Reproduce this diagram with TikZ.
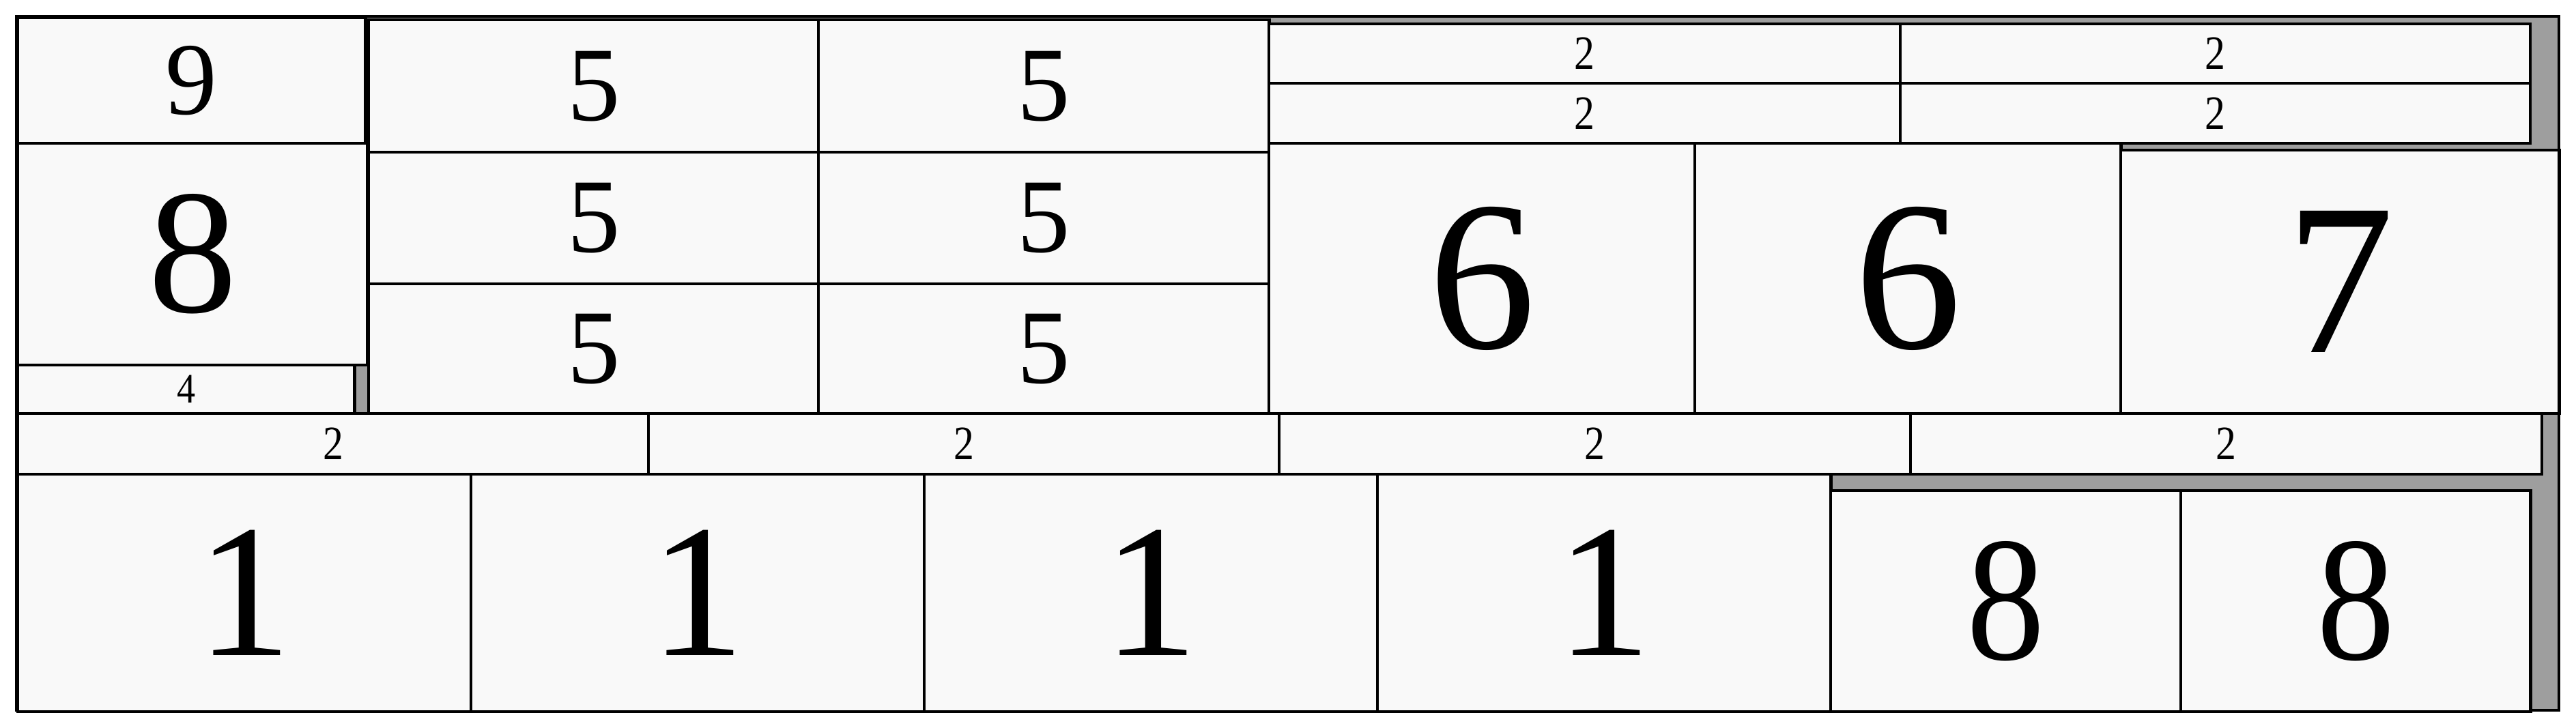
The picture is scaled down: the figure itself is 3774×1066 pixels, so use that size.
\documentclass[tikz,border=0pt]{standalone}
\usepackage{fontspec}
\setmainfont{Liberation Serif}
\usepackage{graphicx}
\usepackage{tikz}

\definecolor{binfill}{HTML}{F9F9F9}
\definecolor{gapgray}{HTML}{9E9E9E}

\newcommand{\fsz}[1]{\fontsize{#1pt}{#1pt}\selectfont}

\begin{document}
\begin{tikzpicture}[x=0.01cm, y=-0.01cm]
    \tikzstyle{bin}=[draw=black, fill=binfill, line width=1.2pt, inner sep=0pt, anchor=north west]
    \useasboundingbox (0,0) rectangle (3774,1066);
    % container
    \draw[fill=gapgray, line width=1.4pt] (24,24) rectangle (3749,1041);
    % left column
    \node[bin, minimum width=5.09cm, minimum height=1.84cm, font=\fsz{43}] (nine) at (24,24) {9};
    \node[bin, minimum width=5.12cm, minimum height=3.25cm, font=\fsz{74}] (eightl) at (24,208) {8};
    \node[bin, minimum width=4.93cm, minimum height=0.71cm, font=\fsz{17.5}] (four) at (24,533) {\scalebox{0.88}[1]{4}};
    % fives
    \node[bin, minimum width=6.59cm, minimum height=1.94cm, font=\fsz{44}] (fa) at (538,27) {5};
    \node[bin, minimum width=6.60cm, minimum height=1.94cm, font=\fsz{44}] (fb) at (1197,27) {5};
    \node[bin, minimum width=6.59cm, minimum height=1.93cm, font=\fsz{44}] (fc) at (538,221) {5};
    \node[bin, minimum width=6.60cm, minimum height=1.93cm, font=\fsz{44}] (fd) at (1197,221) {5};
    \node[bin, minimum width=6.59cm, minimum height=1.90cm, font=\fsz{44}] (fe) at (538,414) {5};
    \node[bin, minimum width=6.60cm, minimum height=1.90cm, font=\fsz{44}] (ff) at (1197,414) {5};
    % small twos, top right
    \node[bin, minimum width=9.25cm, minimum height=0.87cm, font=\fsz{20}] (ta) at (1857,33) {\scalebox{0.85}[1]{2}};
    \node[bin, minimum width=9.22cm, minimum height=0.87cm, font=\fsz{20}] (tb) at (2782,33) {\scalebox{0.85}[1]{2}};
    \node[bin, minimum width=9.25cm, minimum height=0.88cm, font=\fsz{20}] (tc) at (1857,120) {\scalebox{0.85}[1]{2}};
    \node[bin, minimum width=9.22cm, minimum height=0.88cm, font=\fsz{20}] (td) at (2782,120) {\scalebox{0.85}[1]{2}};
    % sixes and seven
    \node[bin, minimum width=6.24cm, minimum height=3.96cm, font=\fsz{89}] (sa) at (1857,208) {6};
    \node[bin, minimum width=6.24cm, minimum height=3.96cm, font=\fsz{89}] (sb) at (2481,208) {6};
    \node[bin, minimum width=6.42cm, minimum height=3.86cm, font=\fsz{90}] (seven) at (3105,218) {7};
    % row of twos
    \node[bin, minimum width=9.24cm, minimum height=0.89cm, font=\fsz{20}] (ra) at (24,604) {\scalebox{0.85}[1]{2}};
    \node[bin, minimum width=9.24cm, minimum height=0.89cm, font=\fsz{20}] (rb) at (948,604) {\scalebox{0.85}[1]{2}};
    \node[bin, minimum width=9.25cm, minimum height=0.89cm, font=\fsz{20}] (rc) at (1872,604) {\scalebox{0.85}[1]{2}};
    \node[bin, minimum width=9.24cm, minimum height=0.89cm, font=\fsz{20}] (rd) at (2797,604) {\scalebox{0.85}[1]{2}};
    % ones
    \node[bin, minimum width=6.64cm, minimum height=3.48cm, font=\fsz{79}] (oa) at (24,693) {1};
    \node[bin, minimum width=6.64cm, minimum height=3.48cm, font=\fsz{79}] (ob) at (688,693) {1};
    \node[bin, minimum width=6.64cm, minimum height=3.48cm, font=\fsz{79}] (oc) at (1352,693) {1};
    \node[bin, minimum width=6.64cm, minimum height=3.48cm, font=\fsz{79}] (od) at (2016,693) {1};
    % eights, bottom right
    \node[bin, minimum width=5.13cm, minimum height=3.24cm, font=\fsz{74}] (ea) at (2680,717) {\scalebox{0.88}[1]{8}};
    \node[bin, minimum width=5.12cm, minimum height=3.24cm, font=\fsz{74}] (eb) at (3193,717) {\scalebox{0.88}[1]{8}};
\end{tikzpicture}
\end{document}
